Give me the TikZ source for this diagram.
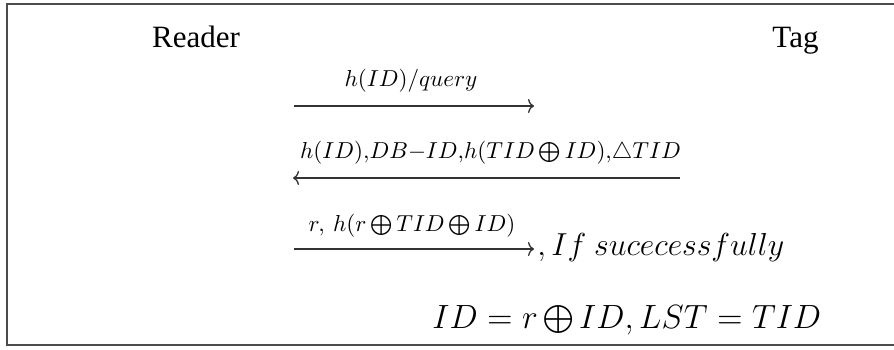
\RequirePackage{fix-cm}
\documentclass[tikz,border=0pt]{standalone}
\usepackage{fontspec}
\setmainfont{Liberation Serif}
\usetikzlibrary{arrows.meta}
\begin{document}
\begin{tikzpicture}[x=0.5pt,y=-0.5pt,
  party/.style={font=\fontsize{15.5}{18}\selectfont, inner sep=0pt, anchor=base},
  lbl/.style={font=\fontsize{16.5}{20}\selectfont, inner sep=0pt, anchor=base},
  big/.style={font=\fontsize{15.9}{20}\selectfont, inner sep=0pt, anchor=base west},
  bigger/.style={font=\fontsize{16.8}{20}\selectfont, inner sep=0pt, anchor=base west},
  msg/.style={line width=0.65pt, draw=black!80, -{To[length=3pt,width=7pt]}},
  frame/.style={line width=0.8pt, draw=black!70}]
\useasboundingbox (0,0) rectangle (894,349);
\draw[frame] (894,4) -- (7,4) -- (7,345) -- (894,345);

\node[party] (reader) at (196,47) {Reader};
\node[party] (tag) at (795.5,47) {Tag};

\node[lbl] (l1) at (411,86) {$\scriptstyle h(ID)/query$};
\coordinate (a1s) at (294,106);
\coordinate (a1e) at (534,106);
\draw[msg] (a1s) -- (a1e);

\node[lbl] (l2) at (490.5,158) {$\scriptstyle h(ID),DB-ID,h(TID\bigoplus ID),\triangle TID$};
\coordinate (a2s) at (680,178);
\coordinate (a2e) at (293,178);
\draw[msg] (a2s) -- (a2e);

\node[lbl] (l3) at (412,231) {$\scriptstyle r,\ h(r\bigoplus TID\bigoplus ID)$};
\coordinate (a3s) at (294,249);
\coordinate (a3e) at (534,249);
\draw[msg] (a3s) -- (a3e);
\node[big] (cond) at (537,255) {$,If\ sucecessfully$};

\node[bigger] (upd) at (432,328) {$\displaystyle ID=r\bigoplus ID,LST=TID$};
\end{tikzpicture}
\end{document}
